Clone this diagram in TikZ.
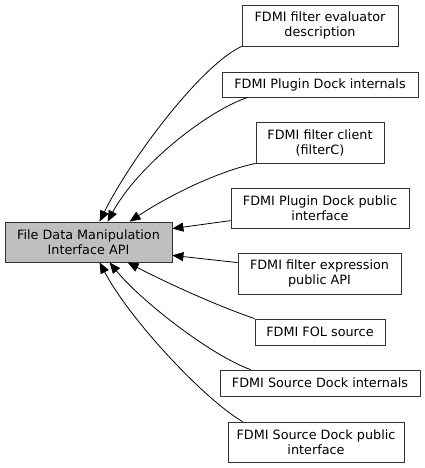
\documentclass[tikz,border=0pt]{standalone}
\usepackage{fontspec}
\setmainfont{DejaVu Sans}
\usetikzlibrary{arrows.meta}
\begin{document}
\begin{tikzpicture}[x=1pt,y=-1pt,
  box/.style={draw=black!80,line width=0.8pt,fill=white,inner sep=0pt,align=center,
    font=\fontsize{12.8}{15}\selectfont},
  edge/.style={draw=black,line width=0.8pt,-{Triangle[length=11pt,width=9pt]}}]
\useasboundingbox (0,0) rectangle (425,468);
\node[box,fill=black!25,minimum width=167pt,minimum height=40pt] (main) at (88.5,242) {File Data Manipulation\\Interface API};
\node[box,minimum width=156pt,minimum height=41pt] (n1) at (320,25.5) {FDMI filter evaluator\\description};
\node[box,minimum width=196pt,minimum height=25pt] (n2) at (320,84.5) {FDMI Plugin Dock internals};
\node[box,minimum width=128pt,minimum height=41pt] (n3) at (320,142.5) {FDMI filter client\\(filterC)};
\node[box,minimum width=178pt,minimum height=40pt] (n4) at (320,208) {FDMI Plugin Dock public\\interface};
\node[box,minimum width=163pt,minimum height=41pt] (n5) at (319.5,273.5) {FDMI filter expression\\public API};
\node[box,minimum width=130pt,minimum height=26pt] (n6) at (320,332) {FDMI FOL source};
\node[box,minimum width=200pt,minimum height=26pt] (n7) at (320,383) {FDMI Source Dock internals};
\node[box,minimum width=176pt,minimum height=40pt] (n8) at (316,442) {FDMI Source Dock public\\interface};
\path[edge] (n1.south west) .. controls (200,66) and (130,160) .. ([xshift=95pt]main.north west);
\path[edge] ([xshift=26pt]n2.south west) .. controls (205,112) and (137,167) .. ([xshift=103pt]main.north west);
\path[edge] (n3.south west) .. controls (215,172) and (165,198) .. ([xshift=125pt]main.north west);
\path[edge] ([yshift=-33pt]n4.north west) -- ([yshift=-7pt]main.north east);
\path[edge] ([yshift=-10pt]n5.north west) -- ([yshift=7pt]main.south east);
\path[edge] (n6.north west) .. controls (215,305) and (165,282) .. ([xshift=123pt]main.south west);
\path[edge] ([xshift=31pt]n7.north west) .. controls (210,355) and (140,300) .. ([xshift=105pt]main.south west);
\path[edge] ([xshift=15pt]n8.north west) .. controls (205,400) and (130,320) .. ([xshift=95pt]main.south west);
\end{tikzpicture}
\end{document}
